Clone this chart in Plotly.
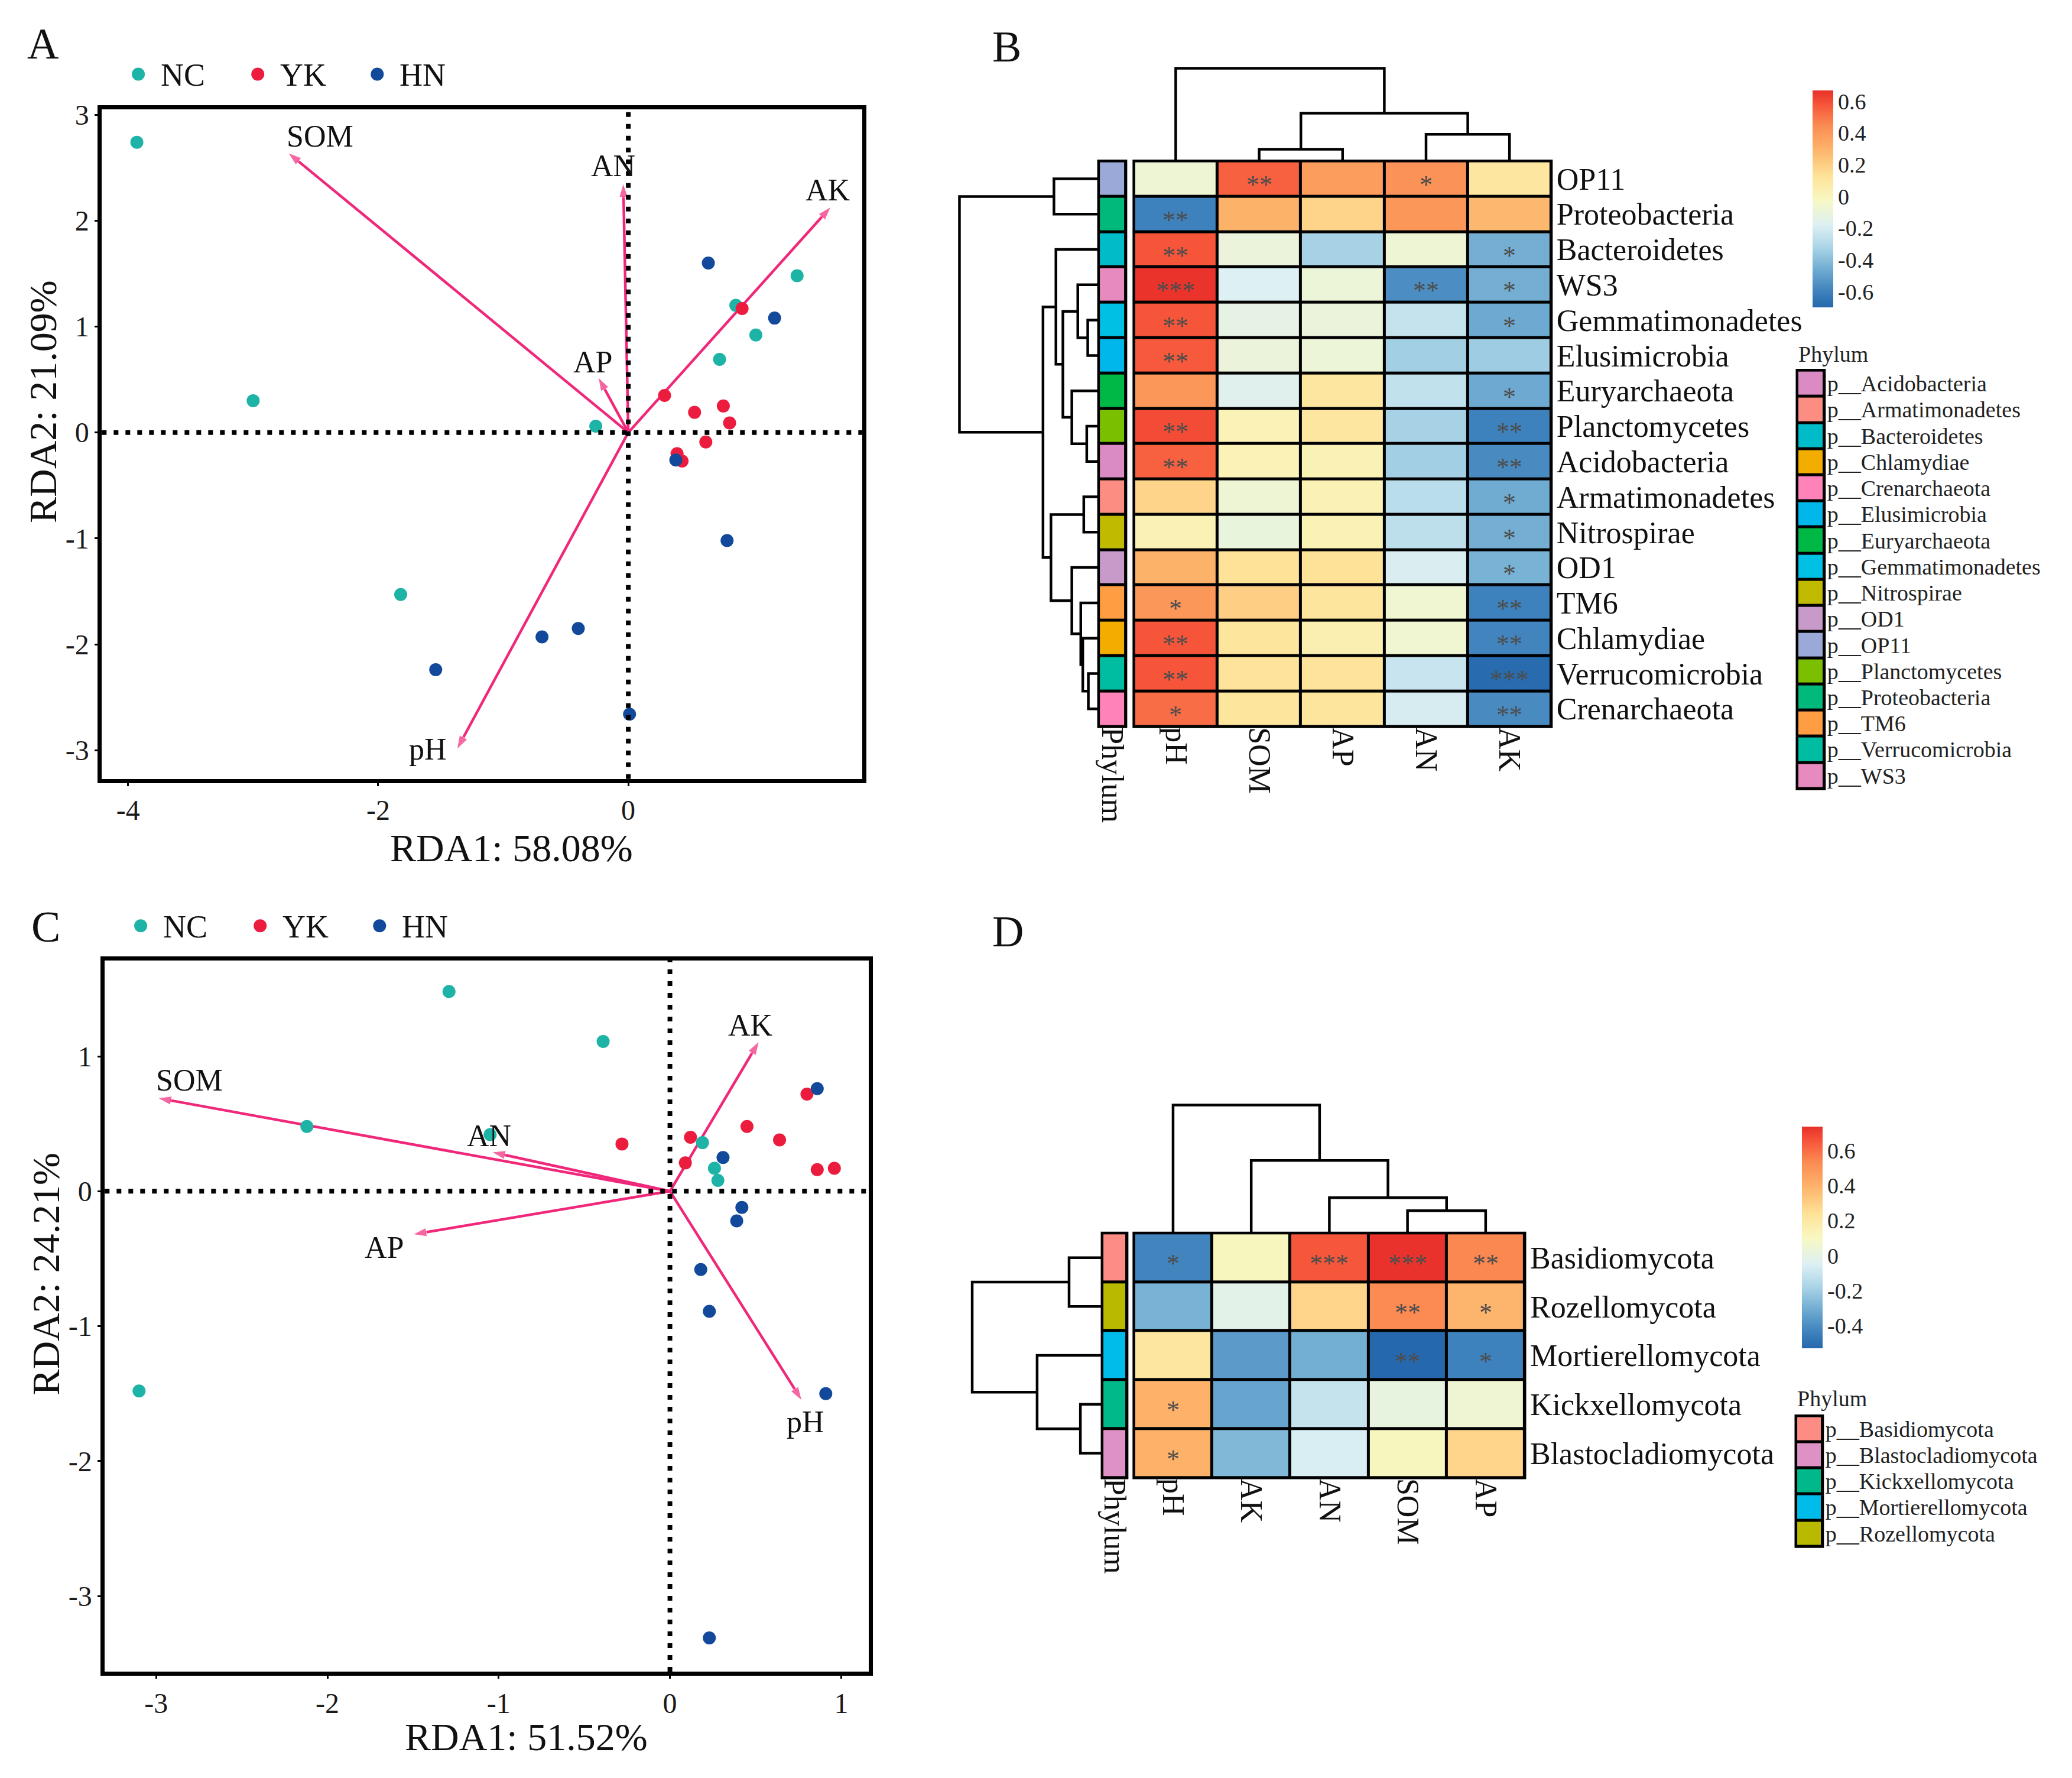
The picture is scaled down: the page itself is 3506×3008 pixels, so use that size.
import plotly.graph_objects as go

W, H = 3506, 3008
OX, OY = -8, -16          # compensate page offset of the rendered div
FONT = "Liberation Serif"
ARROW = "#F0287A"

# ---------------- data: panel A (bacteria RDA) ----------------
A_NC_x = [-3.93, -3.00, -0.26, -1.82, 1.35, 0.86, 1.02, 0.73]
A_NC_y = [2.74, 0.30, 0.06, -1.53, 1.48, 1.20, 0.92, 0.69]
A_YK_x = [0.91, 0.29, 0.53, 0.76, 0.81, 0.62, 0.39, 0.43]
A_YK_y = [1.17, 0.35, 0.19, 0.25, 0.09, -0.09, -0.20, -0.27]
A_HN_x = [0.64, 1.17, 0.38, 0.79, -0.40, -0.69, -1.54, 0.01]
A_HN_y = [1.60, 1.08, -0.26, -1.02, -1.85, -1.93, -2.24, -2.66]
A_env = ["SOM", "AN", "AK", "AP", "pH"]
A_env_x = [-2.72, -0.04, 1.62, -0.24, -1.37]
A_env_y = [2.64, 2.35, 2.13, 0.52, -2.99]
A_xticks = [-4, -2, 0]
A_yticks = [-3, -2, -1, 0, 1, 2, 3]

# ---------------- data: panel C (fungi RDA) ----------------
C_NC_x = [-1.29, -0.39, -2.12, -1.05, -3.10, 0.19, 0.26, 0.28]
C_NC_y = [1.48, 1.11, 0.48, 0.42, -1.48, 0.36, 0.17, 0.08]
C_YK_x = [-0.28, 0.12, 0.09, 0.45, 0.64, 0.80, 0.86, 0.96]
C_YK_y = [0.35, 0.40, 0.21, 0.48, 0.38, 0.72, 0.16, 0.17]
C_HN_x = [0.86, 0.31, 0.42, 0.39, 0.18, 0.23, 0.91, 0.23]
C_HN_y = [0.76, 0.25, -0.12, -0.22, -0.58, -0.89, -1.50, -3.31]
C_env = ["SOM", "AN", "AK", "AP", "pH"]
C_env_x = [-2.99, -1.04, 0.52, -1.50, 0.77]
C_env_y = [0.69, 0.29, 1.11, -0.32, -1.55]
C_xticks = [-3, -2, -1, 0, 1]
C_yticks = [-3, -2, -1, 0, 1]

groups = ["NC", "YK", "HN"]
group_colors = {"NC": "#1DB3A6", "YK": "#EC1C3E", "HN": "#12499B"}

# ---------------- data: panel B (bacterial heatmap) ----------------
B_rows = ["OP11", "Proteobacteria", "Bacteroidetes", "WS3", "Gemmatimonadetes",
          "Elusimicrobia", "Euryarchaeota", "Planctomycetes", "Acidobacteria",
          "Armatimonadetes", "Nitrospirae", "OD1", "TM6", "Chlamydiae",
          "Verrucomicrobia", "Crenarchaeota"]
B_cols = ["pH", "SOM", "AP", "AN", "AK"]
B_r = [
    [-0.08, 0.55, 0.38, 0.42, 0.10],
    [-0.60, 0.30, 0.18, 0.40, 0.28],
    [0.58, -0.10, -0.33, -0.08, -0.45],
    [0.66, -0.18, -0.09, -0.56, -0.45],
    [0.58, -0.13, -0.10, -0.25, -0.47],
    [0.57, -0.10, -0.09, -0.34, -0.35],
    [0.40, -0.16, 0.10, -0.26, -0.47],
    [0.60, 0.02, 0.10, -0.33, -0.60],
    [0.55, 0.02, 0.03, -0.34, -0.57],
    [0.18, -0.08, 0.03, -0.28, -0.46],
    [0.03, -0.11, 0.03, -0.27, -0.45],
    [0.30, 0.13, 0.13, -0.19, -0.44],
    [0.40, 0.20, 0.11, -0.07, -0.60],
    [0.58, 0.11, 0.04, -0.07, -0.59],
    [0.58, 0.12, 0.12, -0.24, -0.69],
    [0.52, 0.11, 0.11, -0.20, -0.57],
]
B_sig = [
    ["", "**", "", "*", ""],
    ["**", "", "", "", ""],
    ["**", "", "", "", "*"],
    ["***", "", "", "**", "*"],
    ["**", "", "", "", "*"],
    ["**", "", "", "", ""],
    ["", "", "", "", "*"],
    ["**", "", "", "", "**"],
    ["**", "", "", "", "**"],
    ["", "", "", "", "*"],
    ["", "", "", "", "*"],
    ["", "", "", "", "*"],
    ["*", "", "", "", "**"],
    ["**", "", "", "", "**"],
    ["**", "", "", "", "***"],
    ["*", "", "", "", "**"],
]
B_zrange = [-0.70, 0.667]
B_cbar_ticks = [0.6, 0.4, 0.2, 0, -0.2, -0.4, -0.6]
B_cbar_text = ["0.6", "0.4", "0.2", "0", "-0.2", "-0.4", "-0.6"]
B_phylum_colors = {
    "Acidobacteria": "#DA8BC3", "Armatimonadetes": "#FC8D82", "Bacteroidetes": "#00BCC8",
    "Chlamydiae": "#F2AD00", "Crenarchaeota": "#FF83B8", "Elusimicrobia": "#00B7EB",
    "Euryarchaeota": "#00B845", "Gemmatimonadetes": "#00C0E4", "Nitrospirae": "#C0BA00",
    "OD1": "#C89ACA", "OP11": "#9AA9D8", "Planctomycetes": "#7BC000",
    "Proteobacteria": "#00B97A", "TM6": "#FF9D42", "Verrucomicrobia": "#00BCA0",
    "WS3": "#E68AC0",
}
# dendrograms: (left, right, height); ints refer to earlier merges
B_row_merges = [
    ("Gemmatimonadetes", "Elusimicrobia", 55), ("Verrucomicrobia", "Crenarchaeota", 52),
    ("Planctomycetes", "Acidobacteria", 60), ("Armatimonadetes", "Nitrospirae", 75),
    ("Chlamydiae", 1, 80), ("TM6", 4, 90), ("WS3", 0, 105), ("Euryarchaeota", 2, 135),
    ("OD1", 5, 135), (6, 7, 180), ("Bacteroidetes", 9, 215), ("OP11", "Proteobacteria", 225),
    (3, 8, 240), (10, 12, 280), (11, 13, 700),
]
B_col_merges = [("SOM", "AP", 60), ("AN", "AK", 135), (0, 1, 242), ("pH", 2, 468)]

# ---------------- data: panel D (fungal heatmap) ----------------
D_rows = ["Basidiomycota", "Rozellomycota", "Mortierellomycota", "Kickxellomycota",
          "Blastocladiomycota"]
D_cols = ["pH", "AK", "AN", "SOM", "AP"]
D_r = [
    [-0.43, 0.11, 0.65, 0.73, 0.54],
    [-0.29, -0.02, 0.28, 0.53, 0.39],
    [0.21, -0.36, -0.30, -0.53, -0.44],
    [0.40, -0.33, -0.11, 0.01, 0.05],
    [0.40, -0.27, -0.06, 0.11, 0.28],
]
D_sig = [
    ["*", "", "***", "***", "**"],
    ["", "", "", "**", "*"],
    ["", "", "", "**", "*"],
    ["*", "", "", "", ""],
    ["*", "", "", "", ""],
]
D_zrange = [-0.53, 0.735]
D_cbar_ticks = [0.6, 0.4, 0.2, 0, -0.2, -0.4]
D_cbar_text = ["0.6", "0.4", "0.2", "0", "-0.2", "-0.4"]
D_phylum_colors = {
    "Basidiomycota": "#FC8C84", "Blastocladiomycota": "#DE91C4",
    "Kickxellomycota": "#00B98A", "Mortierellomycota": "#00BCEB",
    "Rozellomycota": "#B9BA00",
}
D_row_merges = [("Kickxellomycota", "Blastocladiomycota", 110),
                ("Basidiomycota", "Rozellomycota", 167),
                ("Mortierellomycota", 0, 328), (1, 2, 655)]
D_col_merges = [("SOM", "AP", 113), ("AN", 0, 178), ("AK", 1, 365), ("pH", 2, 643)]

HM_SCALE = [[0.0, "#2668AD"], [0.073, "#3E82BD"], [0.183, "#74AFD3"], [0.278, "#ABD5E7"],
            [0.380, "#DDF0F3"], [0.497, "#F8F8C2"], [0.607, "#FEE297"], [0.732, "#FDB26A"],
            [0.841, "#FB8A52"], [0.936, "#F6553A"], [1.0, "#E8302A"]]


# ---------------- helpers ----------------
def px(p):
    return (p + OX) / W


def py(p):
    return 1 - (p + OY) / H


def xd(p0, p1):
    return [px(p0), px(p1)]


def yd(p0, p1):
    return [py(p1), py(p0)]


def fmt(v):
    return str(v).replace("\u2212", "-")


def dendro(leaves, merges):
    pos = {n: i for i, n in enumerate(leaves)}
    npos, nh = [], []
    ps, hs = [], []

    def get(c):
        if isinstance(c, int):
            return npos[c], nh[c]
        return pos[c], 0.0
    for a, b, h in merges:
        pa, ha = get(a)
        pb, hb = get(b)
        ps += [pa, pa, pb, pb, None]
        hs += [ha, h, h, hb, None]
        npos.append((pa + pb) / 2)
        nh.append(h)
    return ps, hs


def step_scale(colors):
    n = len(colors)
    sc = []
    for i, c in enumerate(colors):
        sc.append([i / n, c])
        sc.append([(i + 1) / n, c])
    return sc


fig = go.Figure()
layout = dict(width=W, height=H, margin=dict(l=0, r=0, t=0, b=0), autosize=False,
              paper_bgcolor="white", plot_bgcolor="rgba(0,0,0,0)",
              font=dict(family=FONT, color="#111111"), showlegend=False)
annotations = []
shapes = []


def paper_text(txt, x, y, size, ang=0, xanchor="center", color="#111111"):
    annotations.append(dict(x=px(x), y=py(y), xref="paper", yref="paper", text=txt,
                            showarrow=False, textangle=ang, xanchor=xanchor, yanchor="middle",
                            font=dict(family=FONT, size=size, color=color)))


# ---------------- RDA panels ----------------
def rda_panel(ax, legax, pts, env, ex, ey, label_off, xdom, ydom, xr, yr, xt, yt, leg):
    xa = "x" if ax == 1 else f"x{ax}"
    ya = "y" if ax == 1 else f"y{ax}"
    for k, v in [("xaxis" if ax == 1 else f"xaxis{ax}",
                  dict(domain=xdom, range=xr, tickvals=xt, ticktext=[fmt(t) for t in xt],
                       anchor=ya)),
                 ("yaxis" if ax == 1 else f"yaxis{ax}",
                  dict(domain=ydom, range=yr, tickvals=yt, ticktext=[fmt(t) for t in yt],
                       anchor=xa))]:
        v.update(showline=True, mirror=True, linecolor="black", linewidth=7,
                 ticks="outside", ticklen=5, tickwidth=3, tickcolor="black",
                 showgrid=False, zeroline=False,
                 tickfont=dict(family=FONT, size=48, color="#1a1a1a"))
        layout[k] = v
    # dotted zero lines
    shapes.append(dict(type="line", xref=xa, yref=f"{ya} domain", x0=0, x1=0, y0=0, y1=1,
                       line=dict(color="black", width=8, dash="8px,12px")))
    shapes.append(dict(type="line", xref=f"{xa} domain", yref=ya, x0=0, x1=1, y0=0, y1=0,
                       line=dict(color="black", width=8, dash="8px,12px")))
    # arrows
    for name, x, y in zip(env, ex, ey):
        fig.add_trace(go.Scatter(x=[0, x], y=[0, y], mode="lines+markers", xaxis=xa, yaxis=ya,
                                 line=dict(color=ARROW, width=4.5),
                                 marker=dict(symbol="arrow", size=[0, 24], angleref="previous",
                                             color=ARROW),
                                 showlegend=False, hoverinfo="skip"))
    # points
    for g in groups:
        gx, gy = pts[g]
        fig.add_trace(go.Scatter(x=gx, y=gy, mode="markers", name=g, xaxis=xa, yaxis=ya,
                                 marker=dict(size=22, color=group_colors[g]),
                                 hoverinfo="skip"))
    # labels
    for name, x, y in zip(env, ex, ey):
        dx, dy = label_off[name]
        annotations.append(dict(x=x, y=y, xref=xa, yref=ya, text=name, showarrow=False,
                                xshift=dx, yshift=dy, xanchor="center", yanchor="middle",
                                font=dict(family=FONT, size=52, color="#111111")))
    # group key (legend) on its own hidden axis: one marker per group index
    lx, ly = f"x{legax}", f"y{legax}"
    gi = list(range(len(groups)))
    fig.add_trace(go.Scatter(x=gi, y=[0] * len(groups), mode="markers", xaxis=lx, yaxis=ly,
                             marker=dict(size=22, color=[group_colors[g] for g in groups]),
                             cliponaxis=False, hoverinfo="skip", showlegend=False))
    layout[f"xaxis{legax}"] = dict(domain=xd(leg[0], leg[1]), range=[0, len(groups) - 1],
                                   anchor=ly, visible=False)
    layout[f"yaxis{legax}"] = dict(domain=yd(leg[2] - 20, leg[2] + 20), range=[-1, 1],
                                   anchor=lx, visible=False)
    for i, g in zip(gi, groups):
        annotations.append(dict(x=i, y=0, xref=lx, yref=ly, text=g, showarrow=False,
                                xanchor="left", yanchor="middle", xshift=36, yshift=-2,
                                font=dict(family=FONT, size=54, color="#111111")))


rda_panel(1, 13, {"NC": (A_NC_x, A_NC_y), "YK": (A_YK_x, A_YK_y), "HN": (A_HN_x, A_HN_y)},
          A_env, A_env_x, A_env_y,
          {"SOM": (54, 28), "AN": (-17, 30), "AK": (-5, 28), "AP": (-9, 26), "pH": (-49, 0)},
          xd(166, 1458), yd(177, 1316), [-4.21, 1.87], [-3.27, 3.05], A_xticks, A_yticks,
          leg=(228, 634, 117))
rda_panel(2, 14, {"NC": (C_NC_x, C_NC_y), "YK": (C_YK_x, C_YK_y), "HN": (C_HN_x, C_HN_y)},
          C_env, C_env_x, C_env_y,
          {"SOM": (53, 30), "AN": (-5, 28), "AK": (-14, 27), "AP": (-49, -22), "pH": (6, -36)},
          xd(171, 1469), yd(1625, 2835), [-3.30, 1.16], [-3.56, 1.71], C_xticks, C_yticks,
          leg=(232, 638, 1566))

# axis titles
paper_text("RDA1: 58.08%", 862, 1434, 66)
paper_text("RDA2: 21.09%", 66, 674, 66, ang=-90)
paper_text("RDA1: 51.52%", 887, 2946, 66)
paper_text("RDA2: 24.21%", 71, 2158, 66, ang=-90)
# panel letters
for txt, x, y in [("A", 66, 65), ("B", 1704, 70), ("C", 71, 1568), ("D", 1706, 1576)]:
    paper_text(txt, x, y, 74)


# ---------------- heatmap panels ----------------
def black_box(px0, px1, py0, py1, pad=2.5):
    shapes.append(dict(type="rect", xref="paper", yref="paper", layer="below",
                       x0=px(px0 - pad), x1=px(px1 + pad),
                       y0=py(py1 + pad), y1=py(py0 - pad),
                       fillcolor="black", line=dict(width=0)))


def heat_panel(n0, rows, cols, r, sig, zr, cticks, ctext, pcolors, rmerges, cmerges,
               hx, hy, annx, rdx, rdmax, cdy, cdmax, cbar, leg):
    ax_hm, ax_an, ax_rd, ax_cd, ax_lg = n0, n0 + 1, n0 + 2, n0 + 3, n0 + 4
    nr = len(rows)
    ticks_common = dict(showgrid=False, zeroline=False, showline=False, ticks="")
    # main heatmap
    fig.add_trace(go.Heatmap(z=r, x=list(range(len(cols))), y=list(range(nr)),
                             xaxis=f"x{ax_hm}", yaxis=f"y{ax_hm}", zmin=zr[0], zmax=zr[1],
                             colorscale=HM_SCALE, xgap=5, ygap=5, hoverinfo="skip",
                             colorbar=dict(x=px(cbar[0]), xanchor="left", y=py(cbar[2]),
                                           yanchor="top", len=cbar[3] - cbar[2], lenmode="pixels",
                                           thickness=cbar[1] - cbar[0], thicknessmode="pixels",
                                           outlinewidth=0, xpad=0, ypad=0, ticks="",
                                           tickvals=cticks, ticktext=ctext,
                                           tickfont=dict(family=FONT, size=38, color="#222222"))))
    layout[f"xaxis{ax_hm}"] = dict(domain=xd(*hx), range=[-0.5, len(cols) - 0.5],
                                   anchor=f"y{ax_hm}", side="bottom", tickangle=90,
                                   tickvals=list(range(len(cols))), ticktext=cols,
                                   tickfont=dict(family=FONT, size=52, color="#111111"),
                                   **ticks_common)
    layout[f"yaxis{ax_hm}"] = dict(domain=yd(*hy), range=[nr - 0.5, -0.5], anchor=f"x{ax_hm}",
                                   side="right", tickvals=list(range(nr)), ticktext=rows,
                                   ticklabelstandoff=8,
                                   tickfont=dict(family=FONT, size=52, color="#111111"),
                                   **ticks_common)
    black_box(hx[0], hx[1], hy[0], hy[1])
    for i in range(nr):
        for j in range(len(cols)):
            if sig[i][j]:
                annotations.append(dict(x=j, y=i, xref=f"x{ax_hm}", yref=f"y{ax_hm}",
                                        text=sig[i][j], showarrow=False, yshift=-10,
                                        xanchor="center", yanchor="middle",
                                        font=dict(family=FONT, size=44, color="#4D4D4D")))
    # annotation bar
    names_sorted = sorted(pcolors.keys())
    cidx = {n: k for k, n in enumerate(names_sorted)}
    cs = step_scale([pcolors[n] for n in names_sorted])
    fig.add_trace(go.Heatmap(z=[[cidx[n]] for n in rows], x=[0], y=list(range(nr)),
                             xaxis=f"x{ax_an}", yaxis=f"y{ax_hm}", zmin=-0.5,
                             zmax=len(names_sorted) - 0.5, colorscale=cs, showscale=False,
                             xgap=5, ygap=5, hoverinfo="skip"))
    layout[f"xaxis{ax_an}"] = dict(domain=xd(*annx), range=[-0.5, 0.5], anchor=f"y{ax_hm}",
                                   side="bottom", tickangle=90, tickvals=[0], ticktext=["Phylum"],
                                   tickfont=dict(family=FONT, size=52, color="#111111"),
                                   **ticks_common)
    black_box(annx[0], annx[1], hy[0], hy[1])
    # row dendrogram
    ps, hs = dendro(rows, rmerges)
    fig.add_trace(go.Scatter(x=hs, y=ps, mode="lines", xaxis=f"x{ax_rd}", yaxis=f"y{ax_hm}",
                             line=dict(color="black", width=4.5), showlegend=False,
                             hoverinfo="skip"))
    layout[f"xaxis{ax_rd}"] = dict(domain=xd(*rdx), range=[rdmax, 0], anchor=f"y{ax_hm}",
                                   visible=False)
    # column dendrogram
    ps, hs = dendro(cols, cmerges)
    fig.add_trace(go.Scatter(x=ps, y=hs, mode="lines", xaxis=f"x{ax_hm}", yaxis=f"y{ax_cd}",
                             line=dict(color="black", width=4.5), showlegend=False,
                             hoverinfo="skip"))
    layout[f"yaxis{ax_cd}"] = dict(domain=yd(*cdy), range=[0, cdmax], anchor=f"x{ax_hm}",
                                   visible=False)
    # phylum legend
    ln = len(names_sorted)
    fig.add_trace(go.Heatmap(z=[[k] for k in range(ln)], x=[0], y=list(range(ln)),
                             xaxis=f"x{ax_lg}", yaxis=f"y{ax_lg}", zmin=-0.5, zmax=ln - 0.5,
                             colorscale=cs, showscale=False, xgap=5, ygap=5, hoverinfo="skip"))
    layout[f"xaxis{ax_lg}"] = dict(domain=xd(leg[0], leg[1]), range=[-0.5, 0.5],
                                   anchor=f"y{ax_lg}", visible=False)
    layout[f"yaxis{ax_lg}"] = dict(domain=yd(leg[2], leg[3]), range=[ln - 0.5, -0.5],
                                   anchor=f"x{ax_lg}", side="right", tickvals=list(range(ln)),
                                   ticktext=["p__" + n for n in names_sorted],
                                   ticklabelstandoff=4,
                                   tickfont=dict(family=FONT, size=38, color="#222222"),
                                   **ticks_common)
    black_box(leg[0], leg[1], leg[2], leg[3])
    paper_text("Phylum", leg[0], leg[4], 38, xanchor="left", color="#222222")


heat_panel(3, B_rows, B_cols, B_r, B_sig, B_zrange, B_cbar_ticks, B_cbar_text,
           B_phylum_colors, B_row_merges, B_col_merges,
           hx=(1920, 2629), hy=(265, 1227), annx=(1860, 1906), rdx=(1620, 1860), rdmax=710,
           cdy=(100, 265), cdmax=489, cbar=(3073, 3108, 145, 512),
           leg=(3047, 3093, 621, 1333, 593))
heat_panel(8, D_rows, D_cols, D_r, D_sig, D_zrange, D_cbar_ticks, D_cbar_text,
           D_phylum_colors, D_row_merges, D_col_merges,
           hx=(1920, 2584), hy=(2089, 2505), annx=(1866, 1908), rdx=(1640, 1866), rdmax=670,
           cdy=(1865, 2089), cdmax=661, cbar=(3055, 3090, 1908, 2283),
           leg=(3045, 3090, 2400, 2622, 2370))

layout["annotations"] = annotations
layout["shapes"] = shapes
fig.update_layout(**layout)
fig.write_html("out.html")
